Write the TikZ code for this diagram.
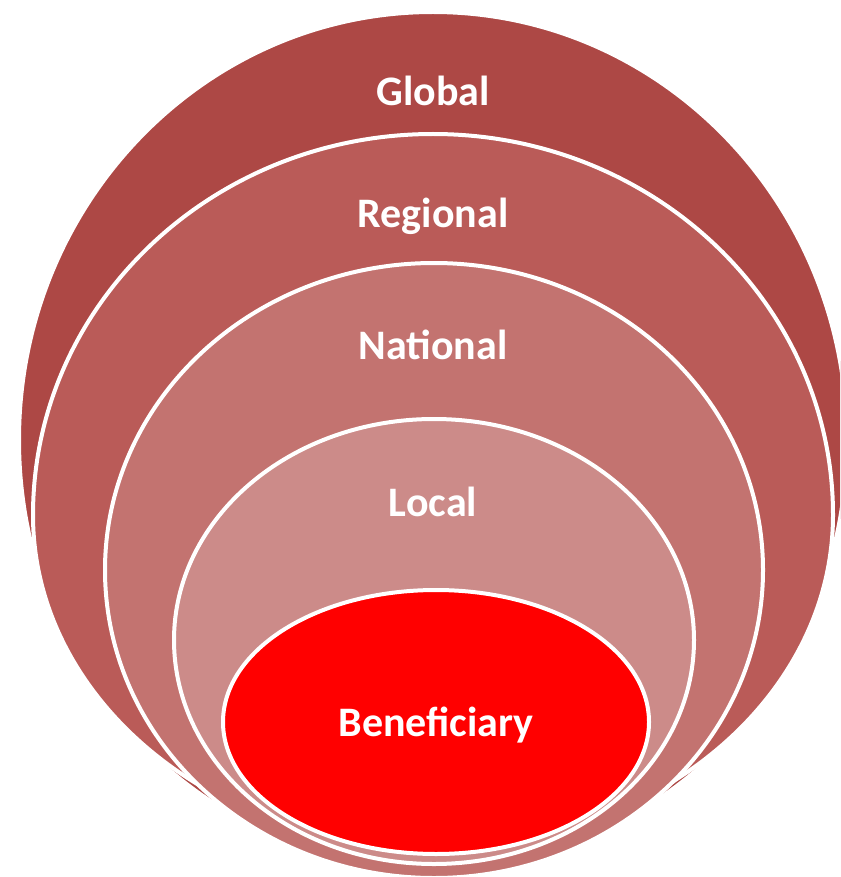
\documentclass[tikz,border=0pt]{standalone}
\usepackage{fontspec}
\setmainfont{Carlito}
\definecolor{cglobal}{HTML}{AD4845}
\definecolor{cregional}{HTML}{BA5B58}
\definecolor{cnational}{HTML}{C37370}
\definecolor{clocal}{HTML}{CC8B89}
\definecolor{cbenef}{HTML}{FF0000}
% #1 cx, #2 top, #3 widest y, #4 bottom, #5 left, #6 right, #7 fill
\newcommand\eggshape[7]{%
  \path[ring, fill=#7] (#1,#2)
    .. controls ({#1+0.5523*(#6-#1)},#2) and (#6,{#3-0.5523*(#3-#2)}) .. (#6,#3)
    .. controls (#6,{#3+0.5523*(#4-#3)}) and ({#1+0.5523*(#6-#1)},#4) .. (#1,#4)
    .. controls ({#1-0.5523*(#1-#5)},#4) and (#5,{#3+0.5523*(#4-#3)}) .. (#5,#3)
    .. controls (#5,{#3-0.5523*(#3-#2)}) and ({#1-0.5523*(#1-#5)},#2) .. cycle;}
\tikzset{
  ring/.style={draw=white, line width=4pt},
  lbl/.style={text=white, font=\bfseries\fontsize{42}{50}\selectfont, anchor=base, inner sep=0pt}
}
\begin{document}
\begin{tikzpicture}[x=1pt,y=-1pt]
\useasboundingbox (0,0) rectangle (840,877);
\clip (0,0) rectangle (840,877);
\eggshape{433}{12}{440}{868}{19}{847}{cglobal}
\eggshape{433}{134}{515}{848}{33}{833}{cregional}
\eggshape{434}{263}{570}{878}{105}{763}{cnational}
\eggshape{434}{419}{640}{864}{174}{694}{clocal}
\eggshape{436}{590}{722}{854}{223}{649}{cbenef}
\node[lbl] (global) at (433,106) {Global};
\node[lbl] (regional) at (433,228) {Regional};
\node[lbl] (national) at (433,359) {National};
\node[lbl] (local) at (433,516) {Local};
\node[lbl] (benef) at (436,736) {Beneficiary};
\end{tikzpicture}
\end{document}
